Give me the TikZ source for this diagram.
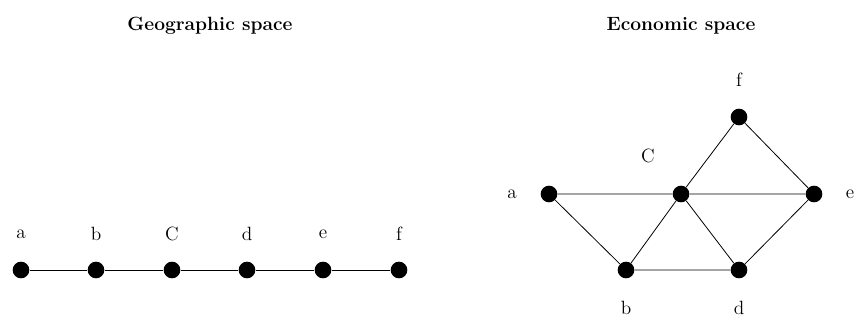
\documentclass[tikz,border=0pt]{standalone}
\begin{document}
\begin{tikzpicture}[x=0.75pt,y=-0.75pt,
  dot/.style={circle,fill=black,inner sep=0pt,minimum size=12.5pt},
  lbl/.style={font=\Large},
  ttl/.style={font=\Large\bfseries},
  edge/.style={draw=black,line width=0.6pt}]
\useasboundingbox (0,0) rectangle (859,320);
\node[ttl] (t1) at (210,26) {Geographic space};
\node[ttl] (t2) at (681,26) {Economic space};
% left line
\foreach \n/\x/\t in {la/21/a,lb/96/b,lc/172/C,ld/247/d,le/323/e,lf/399/f}{
  \node[dot] (\n) at (\x,270) {};
  \node[lbl] (\n t) at (\x,234) {\t};
}
\draw[edge] (la)--(lb)--(lc)--(ld)--(le)--(lf);
% right graph
\node[dot] (a) at (549,194) {};
\node[dot] (c) at (681,194) {};
\node[dot] (e) at (814,194) {};
\node[dot] (f) at (739,117) {};
\node[dot] (b) at (626,270) {};
\node[dot] (d) at (739,270) {};
\node[lbl] (at) at (512,194) {a};
\node[lbl] (ct) at (648,156) {C};
\node[lbl] (et) at (850,194) {e};
\node[lbl] (ft) at (739,80) {f};
\node[lbl] (bt) at (626,308) {b};
\node[lbl] (dt) at (739,308) {d};
\draw[edge] (a)--(c) (c)--(e) (a)--(b) (b)--(c) (b)--(d) (c)--(d) (d)--(e) (c)--(f) (f)--(e);
\end{tikzpicture}
\end{document}
